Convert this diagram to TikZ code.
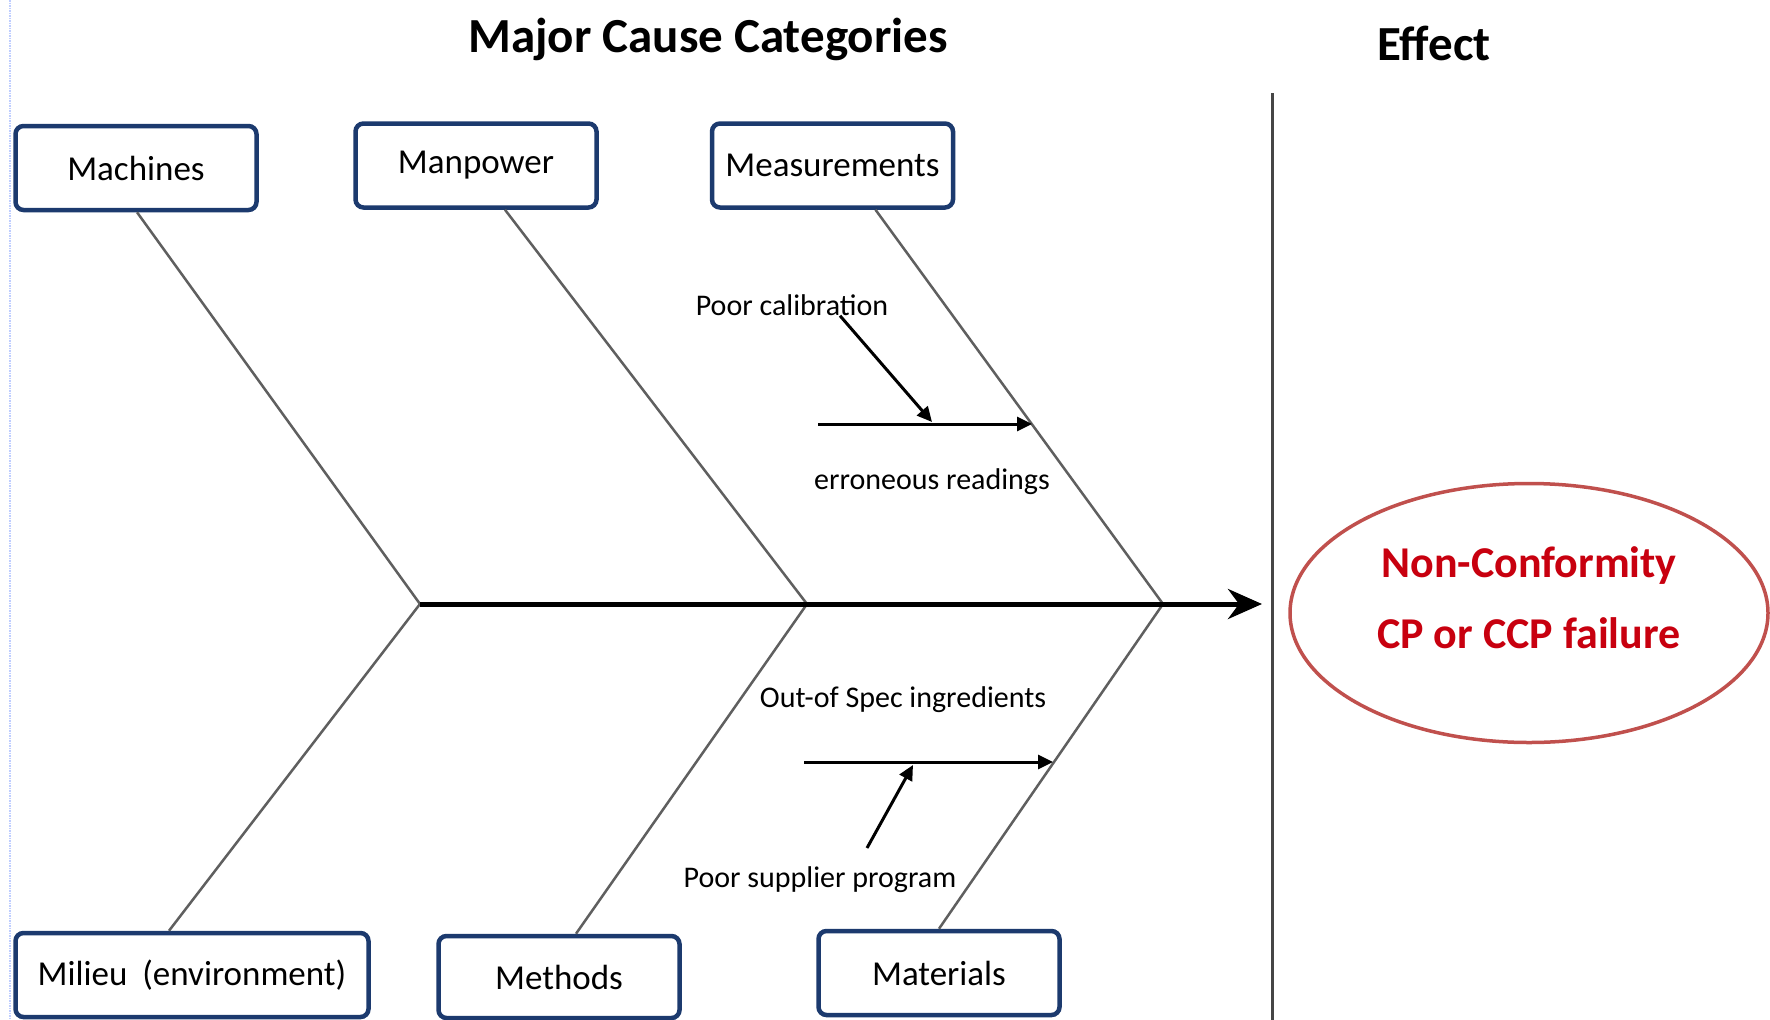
\documentclass[tikz,border=0pt]{standalone}
\usepackage{fontspec}
\setmainfont{Carlito}
\usetikzlibrary{arrows.meta,shapes.geometric}
\definecolor{boxblue}{RGB}{28,58,110}
\definecolor{bonegray}{RGB}{95,95,95}
\definecolor{dividergray}{RGB}{70,70,70}
\definecolor{effectred}{RGB}{200,0,15}
\definecolor{ovalred}{RGB}{192,80,77}
\definecolor{marginblue}{RGB}{190,205,255}
\begin{document}
\begin{tikzpicture}[x=1pt,y=-1pt,
  category/.style={draw=boxblue, line width=4.5pt, rounded corners=8pt, fill=white,
    minimum width=241pt, minimum height=84pt, inner sep=0pt,
    font=\fontsize{35}{42}\selectfont},
  bone/.style={draw=bonegray, line width=2.5pt},
  spine/.style={draw=black, line width=5pt, -{Stealth[length=34pt,width=30pt]}},
  cause/.style={font=\fontsize{30}{36}\selectfont, inner sep=0pt},
  subarrow/.style={draw=black, line width=3pt, -{Triangle[length=15pt,width=14pt]}},
  heading/.style={font=\fontsize{49}{58}\selectfont\bfseries, anchor=base}]

% canvas
\fill[white] (0,0) rectangle (1770,1020);
\useasboundingbox (0,0) rectangle (1770,1020);

% faint page margin
\coordinate (margintop) at (10,0);
\coordinate (marginbot) at (10,1020);
\draw[marginblue, line width=1.5pt, densely dotted] (margintop) -- (marginbot);

% headings
\node[heading] (title) at (708,52) {Major Cause Categories};
\node[heading] (effecthead) at (1434,60) {Effect};

% divider between causes and effect
\coordinate (divtop) at (1272,93);
\coordinate (divbot) at (1272,1020);
\draw[dividergray, line width=3pt] (divtop) -- (divbot);

% junctions on the spine
\coordinate (j1) at (420,604);
\coordinate (j2) at (807,604);
\coordinate (j3) at (1163,604);
\coordinate (spinehead) at (1262,604);

% category boxes
\node[category] (machines) at (136,168) {Machines};
\node[category] (manpower) at (476,165.5) {Manpower};
\node[category] (measure) at (832.5,165.5) {Measurements};
\node[category, minimum width=353pt] (milieu) at (192,975) {Milieu\hspace{0.2em} (environment)};
\node[category, minimum height=82pt] (methods) at (559,977) {Methods};
\node[category] (materials) at (939,973) {Materials};

% bones
\draw[bone] ([xshift=1pt]machines.south) -- (j1);
\draw[bone] ([xshift=29pt]manpower.south) -- (j2);
\draw[bone] ([xshift=43pt]measure.south) -- (j3);
\draw[bone] ([xshift=-23pt]milieu.north) -- (j1);
\draw[bone] ([xshift=17pt]methods.north) -- (j2);
\draw[bone] (materials.north) -- (j3);

% spine
\draw[spine] (j1) -- (spinehead);

% effect
\node[ellipse, draw=ovalred, line width=3.5pt, minimum width=478pt, minimum height=259pt,
      inner sep=0pt] (effect) at (1529,613) {};
\node[font=\fontsize{44}{71}\selectfont\bfseries, text=effectred, align=center]
      (effecttext) at (1529,598) {Non-Conformity\\CP or CCP failure};

% measurement sub-causes
\node[cause] (pcal) at (792,305) {Poor calibration};
\node[cause] (err) at (932,482) {erroneous readings};
\coordinate (errstart) at (818,424);
\coordinate (errend) at (1032,424);
\coordinate (pcalend) at (932,422);
\draw[subarrow] (errstart) -- (errend);
\draw[subarrow] ([xshift=48pt]pcal.south) -- (pcalend);

% material sub-causes
\node[cause] (oos) at (903,700) {Out-of Spec ingredients};
\node[cause] (psp) at (820,880) {Poor supplier program};
\coordinate (oosstart) at (804,762);
\coordinate (oosend) at (1053,762);
\coordinate (pspstart) at (867,848);
\coordinate (pspend) at (913,765);
\draw[subarrow] (oosstart) -- (oosend);
\draw[subarrow] (pspstart) -- (pspend);

\end{tikzpicture}
\end{document}
